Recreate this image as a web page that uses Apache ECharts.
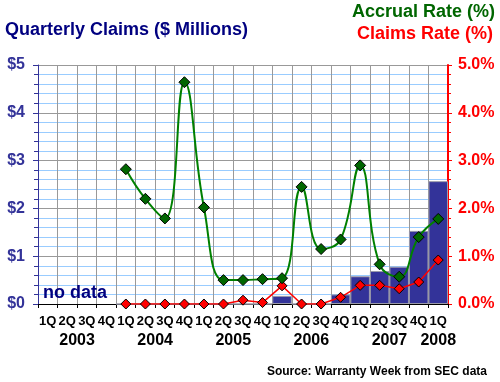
<!DOCTYPE html>
<html>
<head>
<meta charset="utf-8">
<script src="https://cdn.jsdelivr.net/npm/echarts@6/dist/echarts.min.js"></script>
<style>
html,body{margin:0;padding:0;background:#fff;}
#chart{width:500px;height:382px;}
</style>
</head>
<body>
<div id="chart"></div>
<script>
// ---- Data ----
var quarterLabels = ['1Q','2Q','3Q','4Q','1Q','2Q','3Q','4Q','1Q','2Q','3Q','4Q','1Q','2Q','3Q','4Q','1Q','2Q','3Q','4Q','1Q'];
var yearLabels = ['2003','2004','2005','2006','2007','2008'];
var yearQuarterCounts = [4,4,4,4,4,1];
// Quarterly claims ($ millions), 1Q2003 .. 1Q2008
var claims = [null,null,null,null, 0,0,0,0, 0,0,0,0, 0.17,0,0,0.20, 0.58,0.69,0.78,1.53, 2.57];
// Accrual rate (%)
var accrualRate = [null,null,null,null, 2.82,2.20,1.79,4.64, 2.02,0.50,0.50,0.52, 0.54,2.45,1.15,1.35, 2.90,0.83,0.57,1.40, 1.78];
// Claims rate (%)
var claimsRate = [null,null,null,null, 0,0,0,0, 0,0,0.08,0.03, 0.38,0,0,0.14, 0.39,0.39,0.32,0.46, 0.92];

// year label positions (center of each year's quarters) on a 0..N value scale
var yearPos = [];
var start = 0;
for (var i = 0; i < yearQuarterCounts.length; i++) {
  yearPos.push(start + yearQuarterCounts[i] / 2);
  start += yearQuarterCounts[i];
}

var FONT = "'Liberation Sans', Arial, sans-serif";
var chart = echarts.init(document.getElementById('chart'), null, {renderer: 'canvas'});

var option = {
  backgroundColor: '#ffffff',
  animation: false,
  title: [
    {text: 'Quarterly Claims ($ Millions)', left: 5, top: 21, padding: 0,
     textStyle: {fontFamily: FONT, fontSize: 18, fontWeight: 'bold', color: '#000080'}},
    {text: 'Accrual Rate (%)', right: 5, top: 3, padding: 0,
     textStyle: {fontFamily: FONT, fontSize: 18, fontWeight: 'bold', color: '#006600'}},
    {text: 'Claims Rate (%)', right: 7, top: 25, padding: 0,
     textStyle: {fontFamily: FONT, fontSize: 18, fontWeight: 'bold', color: '#ff0000'}},
    {text: 'no data', left: 43, top: 284, padding: 0,
     textStyle: {fontFamily: FONT, fontSize: 18, fontWeight: 'bold', color: '#000080'}},
    {text: 'Source: Warranty Week from SEC data', right: 13, top: 366, padding: 0,
     textStyle: {fontFamily: FONT, fontSize: 12, fontWeight: 'bold', color: '#000000'}}
  ],
  grid: {left: 38, right: 52, top: 65, bottom: 78, containLabel: false},
  xAxis: [
    {
      type: 'category', data: quarterLabels, position: 'bottom',
      boundaryGap: true,
      axisLine: {show: true, lineStyle: {color: '#000000', width: 1}},
      axisTick: {show: true, alignWithLabel: false, length: 4, lineStyle: {color: '#000000'}},
      splitLine: {show: true, lineStyle: {color: '#999999', width: 1}},
      axisLabel: {interval: 0, margin: 11, color: '#000000', fontFamily: FONT, fontSize: 13, fontWeight: 'bold'}
    },
    {
      type: 'value', min: 0, max: quarterLabels.length, position: 'bottom',
      axisLine: {show: false}, axisTick: {show: false}, splitLine: {show: false},
      axisLabel: {
        show: true, margin: 29, color: '#000000', fontFamily: FONT, fontSize: 16, fontWeight: 'bold',
        customValues: yearPos,
        formatter: function (v) {
          for (var k = 0; k < yearPos.length; k++) { if (Math.abs(yearPos[k] - v) < 1e-6) return yearLabels[k]; }
          return '';
        }
      }
    }
  ],
  yAxis: [
    {
      type: 'value', min: 0, max: 5, interval: 1, position: 'left',
      axisLine: {show: true, lineStyle: {color: '#333399', width: 1}},
      axisTick: {show: true, length: 5, lineStyle: {color: '#333399'}},
      minorTick: {show: true, splitNumber: 5, length: 4, lineStyle: {color: '#333399'}},
      splitLine: {show: true, lineStyle: {color: '#999999', width: 1}},
      minorSplitLine: {show: true, lineStyle: {color: '#99ccff', width: 1}},
      axisLabel: {margin: 13, color: '#333399', fontFamily: FONT, fontSize: 16, fontWeight: 'bold',
        formatter: function (v) { return '$' + v; }}
    },
    {
      type: 'value', min: 0, max: 5, interval: 1, position: 'right',
      axisLine: {show: true, lineStyle: {color: '#ff0000', width: 2}},
      axisTick: {show: true, length: 4, lineStyle: {color: '#ff0000'}},
      minorTick: {show: true, splitNumber: 5, length: 3, lineStyle: {color: '#ff0000'}},
      splitLine: {show: false},
      axisLabel: {margin: 10, color: '#ff0000', fontFamily: FONT, fontSize: 16, fontWeight: 'bold',
        formatter: function (v) { return v.toFixed(1) + '%'; }}
    }
  ],
  series: [
    {
      name: 'Quarterly Claims', type: 'bar', xAxisIndex: 0, yAxisIndex: 0,
      data: claims, barCategoryGap: '0%', barGap: '0%',
      itemStyle: {color: '#333399', borderColor: '#9a9aaa', borderWidth: 1}
    },
    {
      name: 'Claims Rate', type: 'line', xAxisIndex: 0, yAxisIndex: 1,
      data: claimsRate, smooth: false,
      symbol: 'diamond', symbolSize: 10,
      lineStyle: {color: '#ff0000', width: 1.5},
      itemStyle: {color: '#ff0000', borderColor: '#000000', borderWidth: 1}
    },
    {
      name: 'Accrual Rate', type: 'line', xAxisIndex: 0, yAxisIndex: 1,
      data: accrualRate, smooth: 0.45,
      symbol: 'diamond', symbolSize: 11,
      lineStyle: {color: '#008000', width: 2},
      itemStyle: {color: '#006600', borderColor: '#000000', borderWidth: 1}
    }
  ]
};
chart.setOption(option);
</script>
</body>
</html>
